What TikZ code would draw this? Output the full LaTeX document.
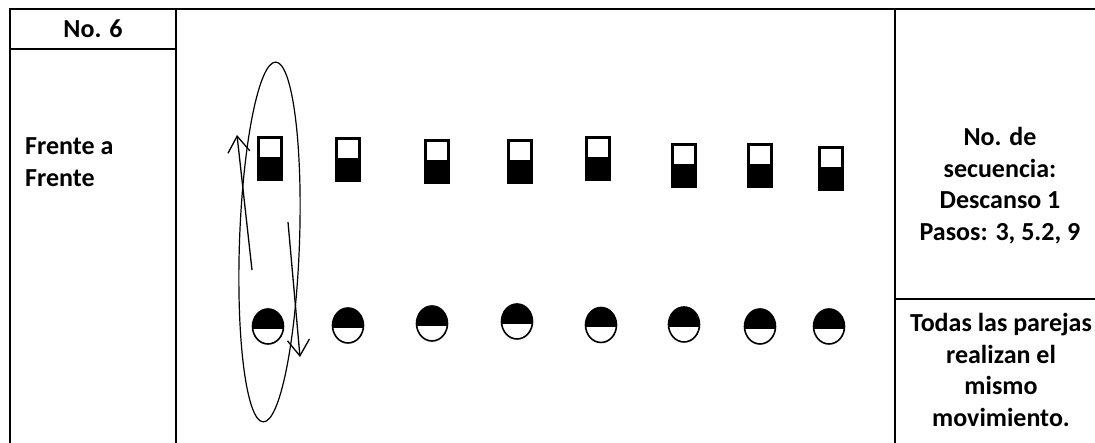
\documentclass[tikz,border=0pt]{standalone}
\usepackage{fontspec}
\setmainfont{Carlito}
\usetikzlibrary{shapes.geometric,arrows.meta}
\begin{document}
\begin{tikzpicture}[x=1pt,y=1pt,
  frame/.style={line width=2.8pt},
  grid/.style={line width=1.4pt},
  lbl/.style={font=\fontsize{26}{31.7}\selectfont\bfseries, inner sep=0pt, align=center},
  sqd/.style={rectangle, draw, line width=3.2pt, minimum width=23pt, minimum height=42pt, inner sep=0pt,
    path picture={\fill[black] ([yshift=1pt]path picture bounding box.west) rectangle (path picture bounding box.south east);}},
  crd/.style={ellipse, draw, line width=1.6pt, minimum width=31pt, minimum height=35pt, inner sep=0pt,
    path picture={\fill[black] ([yshift=-2.5pt]path picture bounding box.west) rectangle (path picture bounding box.north east);}},
  mv/.style={line width=1.3pt, -{Straight Barb[length=16pt,width=22pt,line width=1.3pt]}}
]
\useasboundingbox (0,0) rectangle (1095,443);
% table lines
\draw[frame] (10,0) -- (10,434) -- (1095,434);
\draw[grid] (10,394) -- (176,394);
\draw[grid] (176,0) -- (176,434);
\draw[grid] (895,0) -- (895,434);
\draw[grid] (895,144) -- (1095,144);
% texts
\node[lbl] (num) at (93,414) {No. 6};
\node[lbl, anchor=west, align=left] (fr) at (25,280.5) {Frente a\\Frente};
\node[lbl] (sec) at (1000,257.5) {No. de\\secuencia:\\Descanso 1\\Pasos: 3, 5.2, 9};
\node[lbl] (tod) at (1001,73) {Todas las parejas\\realizan el\\mismo\\movimiento.};
% squares (top row)
\node[sqd] (s1) at (270,284.5) {};
\node[sqd] (s2) at (348,283.5) {};
\node[sqd] (s3) at (437,281.5) {};
\node[sqd] (s4) at (520,281.5) {};
\node[sqd] (s5) at (598,284.5) {};
\node[sqd] (s6) at (684,277.5) {};
\node[sqd] (s7) at (760,277.5) {};
\node[sqd] (s8) at (831,274.5) {};
% circles (bottom row)
\node[crd] (c1) at (268,116.5) {};
\node[crd] (c2) at (348,117.5) {};
\node[crd] (c3) at (432,119.5) {};
\node[crd] (c4) at (517,121.5) {};
\node[crd] (c5) at (601,118) {};
\node[crd] (c6) at (684,118.5) {};
\node[crd] (c7) at (760,116.5) {};
\node[crd] (c8) at (829,116.5) {};
% big ellipse
\draw[line width=1.2pt] (269.5,201) ellipse [x radius=30, y radius=180, rotate=-2];
% arrows
\coordinate (ua) at (252,173);
\coordinate (ub) at (237,308);
\coordinate (da) at (288,221);
\coordinate (db) at (300,86);
\draw[mv] (ua) -- (ub);
\draw[mv] (da) -- (db);
\end{tikzpicture}
\end{document}
